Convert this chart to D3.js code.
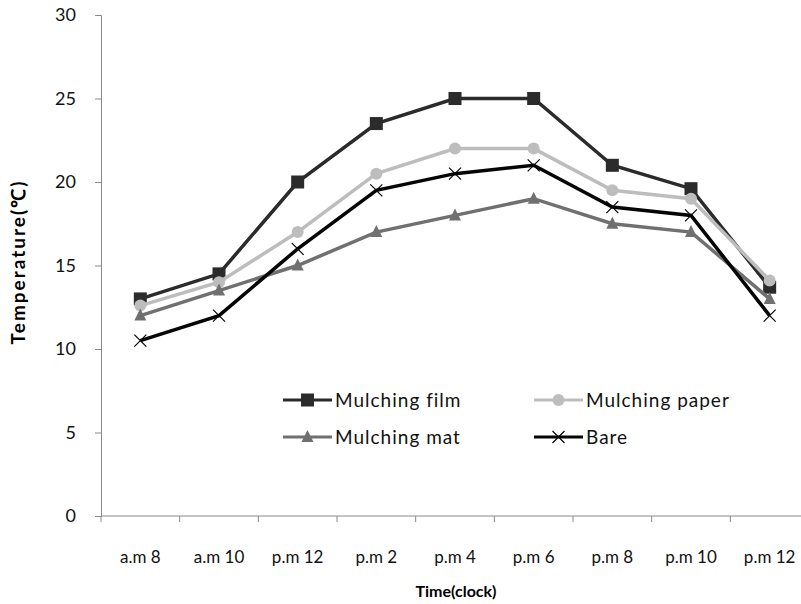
<!DOCTYPE html>
<html>
<head>
<meta charset="utf-8">
<script src="https://cdn.jsdelivr.net/npm/d3@7"></script>
<style>
  body { margin: 0; background: #fff; }
  svg text { font-family: Lato, "Open Sans", sans-serif; }
</style>
</head>
<body>
<svg id="chart" width="801" height="604"></svg>
<script>
const times = ["a.m 8", "a.m 10", "p.m 12", "p.m 2", "p.m 4", "p.m 6", "p.m 8", "p.m 10", "p.m 12"];
const filmValues = [13, 14.5, 20, 23.5, 25, 25, 21, 19.6, 13.7];
const paperValues = [12.6, 14, 17, 20.5, 22, 22, 19.5, 19, 14.1];
const matValues = [12, 13.5, 15, 17, 18, 19, 17.5, 17, 13];
const bareValues = [10.5, 12, 16, 19.5, 20.5, 21, 18.5, 18, 12];
const yTicks = [0, 5, 10, 15, 20, 25, 30];

const series = [
  { name: "Mulching film", values: filmValues, color: "#2b2b2b", marker: "square" },
  { name: "Mulching paper", values: paperValues, color: "#bdbdbd", marker: "circle" },
  { name: "Mulching mat", values: matValues, color: "#707070", marker: "triangle" },
  { name: "Bare", values: bareValues, color: "#050505", marker: "cross" },
];

const svg = d3.select("#chart");
const plotLeft = 101, plotTop = 15, plotBottom = 516, plotRight = 809;

const x = d3.scaleBand().domain(d3.range(times.length)).range([plotLeft, plotRight]);
const y = d3.scaleLinear().domain([0, 30]).range([plotBottom, plotTop]);

// axes
const yAxis = svg.append("g").attr("transform", `translate(${plotLeft},0)`)
  .call(d3.axisLeft(y).tickValues(yTicks).tickSize(6).tickPadding(19));
yAxis.select(".domain").attr("stroke", "#8a8a8a");
yAxis.selectAll(".tick line").attr("stroke", "#8a8a8a");
yAxis.selectAll(".tick text").attr("font-size", 18).attr("fill", "#111");

svg.append("line").attr("x1", plotLeft).attr("x2", 801).attr("y1", plotBottom).attr("y2", plotBottom)
  .attr("stroke", "#8a8a8a");
svg.selectAll(".xtick").data(d3.range(times.length + 1)).enter().append("line")
  .attr("x1", (d) => plotLeft + d * x.step()).attr("x2", (d) => plotLeft + d * x.step())
  .attr("y1", plotBottom).attr("y2", plotBottom + 6).attr("stroke", "#8a8a8a");
svg.selectAll(".xlabel").data(times).enter().append("text")
  .attr("x", (d, i) => x(i) + x.bandwidth() / 2).attr("y", 563)
  .attr("text-anchor", "middle").attr("font-size", 17).attr("fill", "#111")
  .text((d) => d);

svg.append("text").attr("x", 456).attr("y", 597).attr("text-anchor", "middle")
  .attr("font-size", 16).attr("font-weight", "bold").text("Time(clock)");
svg.append("text").attr("transform", "translate(25,262) rotate(-90)").attr("text-anchor", "middle")
  .attr("font-size", 19).attr("font-weight", "bold").attr("letter-spacing", 2).text("Temperature(℃)");

function drawMarker(g, type, cx, cy, color) {
  if (type === "square") {
    g.append("rect").attr("x", cx - 6.5).attr("y", cy - 6.5).attr("width", 13).attr("height", 13).attr("fill", color);
  } else if (type === "circle") {
    g.append("circle").attr("cx", cx).attr("cy", cy).attr("r", 6).attr("fill", color);
  } else if (type === "triangle") {
    g.append("path").attr("d", `M${cx},${cy - 7}L${cx + 6},${cy + 5}L${cx - 6},${cy + 5}Z`).attr("fill", color);
  } else {
    g.append("path").attr("d", `M${cx - 6},${cy - 6}L${cx + 6},${cy + 6}M${cx - 6},${cy + 6}L${cx + 6},${cy - 6}`)
      .attr("stroke", color).attr("stroke-width", 1.2);
  }
}

const line = d3.line().x((d, i) => x(i) + x.bandwidth() / 2).y((d) => y(d));

series.forEach((s) => {
  const g = svg.append("g");
  g.append("path").datum(s.values).attr("d", line).attr("fill", "none")
    .attr("stroke", s.color).attr("stroke-width", 3.5);
  s.values.forEach((v, i) => drawMarker(g, s.marker, x(i) + x.bandwidth() / 2, y(v), s.color));
});

// legend
const legendPos = [[283, 400], [534, 400], [283, 437], [534, 437]];
series.forEach((s, i) => {
  const [lx, ly] = legendPos[i];
  const g = svg.append("g");
  g.append("line").attr("x1", lx).attr("x2", lx + 49).attr("y1", ly).attr("y2", ly)
    .attr("stroke", s.color).attr("stroke-width", 3);
  drawMarker(g, s.marker, lx + 24.5, ly, s.color);
  g.append("text").attr("x", lx + 52).attr("y", ly + 7).attr("font-size", 19).attr("letter-spacing", 1)
    .attr("fill", "#111").text(s.name);
});
</script>
</body>
</html>
